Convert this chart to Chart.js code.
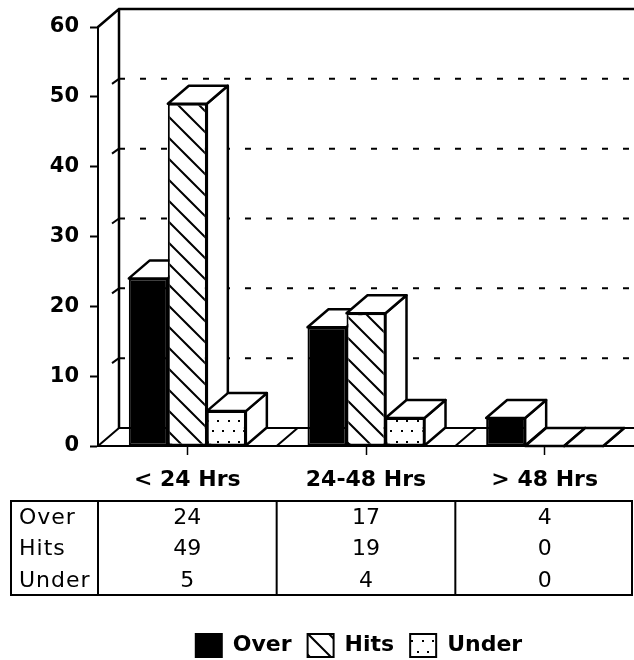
<!DOCTYPE html>
<html>
<head>
<meta charset="utf-8">
<style>
  html, body { margin: 0; padding: 0; background: #fff; }
  canvas { display: block; }
</style>
<script src="https://cdn.jsdelivr.net/npm/chart.js@4"></script>
</head>
<body>
<canvas id="chart" width="634" height="660"></canvas>
<script>
const categories = ['< 24 Hrs', '24-48 Hrs', '> 48 Hrs'];
const seriesNames = ['Over', 'Hits', 'Under'];
const overValues = [24, 17, 4];
const hitsValues = [49, 19, 0];
const underValues = [5, 4, 0];

const DX = 21;  // depth of the 3D look
const DY = 18;
const textFont = '22px "DejaVu Sans"';

// fill patterns
function hatchPattern() {
    const c = document.createElement('canvas');
    c.width = c.height = 21;
    const g = c.getContext('2d');
    g.fillStyle = '#fff';
    g.fillRect(0, 0, 21, 21);
    g.strokeStyle = '#000';
    g.lineWidth = 2;
    g.beginPath();
    g.moveTo(8, -2); g.lineTo(33, 23);
    g.moveTo(-13, -2); g.lineTo(12, 23);
    g.stroke();
    return g.createPattern(c, 'repeat');
}

function dotPattern() {
    const c = document.createElement('canvas');
    c.width = c.height = 21;
    const g = c.getContext('2d');
    g.fillStyle = '#fff';
    g.fillRect(0, 0, 21, 21);
    g.fillStyle = '#000';
    g.fillRect(7, 0, 2, 2);
    g.fillRect(18, 0, 2, 2);
    g.fillRect(2, 10, 2, 2);
    g.fillRect(12, 10, 2, 2);
    return g.createPattern(c, 'repeat');
}

function poly(ctx, pts) {
    ctx.beginPath();
    pts.forEach((p, i) => i ? ctx.lineTo(p[0], p[1]) : ctx.moveTo(p[0], p[1]));
    ctx.closePath();
    ctx.fill();
    ctx.stroke();
}

// walls, floor and the top/side faces of the bars
const depthPlugin = {
    id: 'depth',
    afterLayout(chart) {
        // legend sits right of centre and lower than the default
        const lg = chart.legend;
        lg.left += 84;
        lg.top += 7;
        lg.bottom += 7;
    },
    beforeDatasetsDraw(chart) {
        const ctx = chart.ctx;
        const x = chart.scales.x;
        const y = chart.scales.y;
        const base = y.getPixelForValue(0);
        const top = y.getPixelForValue(60);
        ctx.save();
        ctx.strokeStyle = '#000';
        ctx.fillStyle = '#fff';

        // back wall edges
        ctx.lineWidth = 2.5;
        ctx.beginPath();
        ctx.moveTo(x.left, top);
        ctx.lineTo(x.left + DX, top - DY);
        ctx.lineTo(x.right, top - DY);
        ctx.moveTo(x.left + DX, top - DY);
        ctx.lineTo(x.left + DX, base - DY);
        ctx.stroke();

        // dashed lines on the wall
        ctx.lineWidth = 2;
        y.ticks.forEach(t => {
            if (t.value === 0 || t.value === 60) return;
            const py = y.getPixelForValue(t.value) - DY;
            ctx.setLineDash([6, 15]);
            ctx.beginPath();
            ctx.moveTo(x.left + DX, py);
            ctx.lineTo(x.right, py);
            ctx.stroke();
            ctx.setLineDash([]);
            ctx.beginPath();
            ctx.moveTo(x.left + DX - 7, py + 5);
            ctx.lineTo(x.left + DX, py);
            ctx.stroke();
        });

        // floor
        ctx.beginPath();
        ctx.moveTo(x.left + DX, base - DY);
        ctx.lineTo(x.right, base - DY);
        categories.forEach((c, i) => {
            const px = x.left + x.width * i / categories.length;
            ctx.moveTo(px, base);
            ctx.lineTo(px + DX, base - DY);
        });
        ctx.moveTo(x.right, base);
        ctx.lineTo(x.right + DX, base - DY);
        ctx.stroke();

        // bar tops and sides, left to right
        ctx.lineWidth = 2.5;
        ctx.lineJoin = 'round';
        categories.forEach((c, i) => {
            chart.data.datasets.forEach((d, k) => {
                const b = chart.getDatasetMeta(k).data[i];
                const l = b.x - b.width / 2;
                const r = b.x + b.width / 2;
                poly(ctx, [[r, b.y], [r + DX, b.y - DY], [r + DX, b.base - DY], [r, b.base]]);
                poly(ctx, [[l, b.y], [l + DX, b.y - DY], [r + DX, b.y - DY], [r, b.y]]);
            });
        });
        ctx.restore();
    },
    // data table under the axis
    afterDraw(chart) {
        const ctx = chart.ctx;
        const x = chart.scales.x;
        const tableLeft = 11;
        const tableTop = 501;
        const tableBottom = 595;
        const rowY = [518, 549, 581];
        const rows = [overValues, hitsValues, underValues];
        ctx.save();
        ctx.strokeStyle = '#000';
        ctx.lineWidth = 2;
        ctx.strokeRect(tableLeft, tableTop, x.right - 2 - tableLeft, tableBottom - tableTop);
        ctx.beginPath();
        categories.forEach((c, i) => {
            const px = x.left + x.width * i / categories.length;
            ctx.moveTo(px, tableTop);
            ctx.lineTo(px, tableBottom);
        });
        ctx.stroke();
        ctx.fillStyle = '#000';
        ctx.font = textFont;
        ctx.textBaseline = 'middle';
        rows.forEach((vals, r) => {
            ctx.textAlign = 'left';
            ctx.letterSpacing = '1px';
            ctx.fillText(seriesNames[r], tableLeft + 8, rowY[r]);
            ctx.letterSpacing = '0px';
            ctx.textAlign = 'center';
            vals.forEach((v, i) => ctx.fillText(String(v), x.getPixelForTick(i), rowY[r]));
        });
        ctx.restore();
    }
};

new Chart(document.getElementById('chart').getContext('2d'), {
    type: 'bar',
    data: {
        labels: categories,
        datasets: [
            { label: seriesNames[0], data: overValues, backgroundColor: '#000' },
            { label: seriesNames[1], data: hitsValues, backgroundColor: hatchPattern() },
            { label: seriesNames[2], data: underValues, backgroundColor: dotPattern() }
        ].map(d => Object.assign(d, {
            borderColor: '#000',
            borderWidth: 2,
            borderSkipped: false,
            categoryPercentage: 0.655,
            barPercentage: 1
        }))
    },
    options: {
        responsive: false,
        animation: false,
        layout: { padding: { top: 27, right: 0, left: 0, bottom: 0 } },
        plugins: {
            tooltip: { enabled: false },
            legend: {
                position: 'bottom',
                labels: {
                    color: '#000',
                    font: { family: 'DejaVu Sans', size: 22, weight: 'bold' },
                    boxWidth: 26,
                    boxHeight: 23,
                    padding: 16
                }
            }
        },
        scales: {
            x: {
                afterFit: s => { s.height = 165; },
                border: { color: '#000', width: 2 },
                grid: { offset: false, drawOnChartArea: false, color: '#000', tickLength: 9, tickWidth: 1.5 },
                ticks: { color: '#000', font: { family: 'DejaVu Sans', size: 22, weight: 'bold' }, padding: 12, maxRotation: 0 }
            },
            y: {
                min: 0,
                max: 60,
                afterFit: s => { s.width = 98; },
                border: { color: '#000', width: 2 },
                grid: { drawOnChartArea: false, color: '#000', tickLength: 8, tickWidth: 2 },
                ticks: { color: '#000', stepSize: 10, font: { family: 'DejaVu Sans', size: 21, weight: 'bold' }, padding: 11 }
            }
        }
    },
    plugins: [depthPlugin]
});
</script>
</body>
</html>
